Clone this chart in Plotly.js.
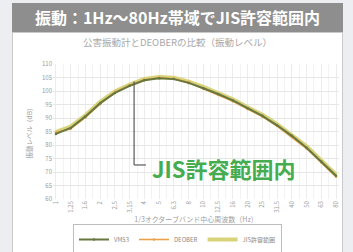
<!DOCTYPE html>
<html><head><meta charset="utf-8">
<script src="https://cdn.plot.ly/plotly-3.0.1.min.js"></script>
<style>
html,body{margin:0;padding:0;background:#eceef1;width:353px;height:252px;overflow:hidden;font-family:"Noto Sans CJK JP","Noto Sans",sans-serif;}
#banner{position:absolute;left:12px;top:3px;width:331px;height:29px;background:#8e8e8e;color:#fff;font-weight:bold;font-size:16px;line-height:29px;text-align:center;letter-spacing:0px;}
#chart{position:absolute;left:12px;top:32px;width:329px;height:222px;background:#fff;border:1px solid #c9c9c9;}
</style></head><body>
<div id="banner">振動：1Hz～80Hz帯域でJIS許容範囲内</div>
<div id="chart"></div>
<script>
const freqLabels = ["1","1.25","1.6","2","2.5","3.15","4","5","6.3","8","10","12.5","16","20","25","31.5","40","50","63","80"];
const vm53   = [84.1,86.3,90.6,95.5,99.3,101.9,104.0,104.7,104.4,103.0,101.0,98.9,96.5,93.6,90.8,87.3,83.4,79.0,73.9,68.6];
const deober = [84.6,86.0,90.2,95.2,99.6,102.1,104.2,104.9,104.5,103.2,100.8,98.6,96.2,93.3,90.5,87.0,83.0,78.7,73.5,68.2];
const jisLimit = [84.9,86.8,91.0,96.0,99.8,102.4,104.5,105.2,104.9,103.5,101.5,99.3,96.9,94.0,91.2,87.7,83.8,79.5,74.3,69.0];
const yTicks = [60,65,70,75,80,85,90,95,100,105,110];
const seriesNames = ["VM53","DEOBER","JIS許容範囲"];
const chartTitle = "公害振動計とDEOBERの比較（振動レベル）";
const xTitle = "1/3オクターブバンド中心周波数（Hz）";
const yTitle = "振動レベル（dB）";
const calloutText = "JIS許容範囲内";

const xIdx = freqLabels.map((_, i) => i);
const font = "Noto Sans CJK JP, Noto Sans, sans-serif";

const traces = [
  {x: xIdx, y: jisLimit, name: seriesNames[2], mode: "lines",
   line: {color: "#d8d27a", width: 4}},
  {x: xIdx, y: deober, name: seriesNames[1], mode: "lines+markers",
   line: {color: "#e9a24a", width: 1.6}, marker: {size: 2.5, color: "#e9a24a"}},
  {x: xIdx, y: vm53, name: seriesNames[0], mode: "lines+markers",
   line: {color: "#66773f", width: 2}, marker: {size: 2.5, color: "#66773f"}}
];

const layout = {
  width: 329, height: 222,
  margin: {l: 40, r: 3, t: 31, b: 56, autoexpand: false},
  paper_bgcolor: "#ffffff", plot_bgcolor: "#ffffff",
  font: {family: font, color: "#9a9a9a", size: 6},
  showlegend: true,
  legend: {orientation: "h", x: 0.5, xanchor: "center", xref: "container",
    y: 0.0, yanchor: "bottom", yref: "container",
    traceorder: "reversed", bordercolor: "#bdbdbd", borderwidth: 1,
    font: {size: 6, color: "#8a8a8a"}, itemwidth: 30, tracegroupgap: 0},
  title: {text: chartTitle, font: {size: 9.5, color: "#a8a8a8"}, x: 0.5, xanchor: "center", y: 0.97, yanchor: "top"},
  xaxis: {
    range: [-0.2, 19.2], tickmode: "array", tickvals: xIdx, ticktext: freqLabels,
    tickangle: -90, showgrid: true, gridcolor: "#ececec", gridwidth: 1,
    minor: {dtick: 0.5, showgrid: true, gridcolor: "#f3f3f3"},
    zeroline: false, showline: false, ticks: "", tickfont: {size: 6, color: "#9a9a9a"},
    title: {text: xTitle, font: {size: 7, color: "#a0a0a0"}, standoff: 13}
  },
  yaxis: {
    range: [60, 110], tickmode: "array", tickvals: yTicks,
    showgrid: true, gridcolor: "#e6e6e6", zeroline: false, showline: false, ticks: "",
    tickfont: {size: 6, color: "#9a9a9a"},
    title: {text: yTitle, font: {size: 6.5, color: "#a0a0a0"}, standoff: 8}
  },
  shapes: [
    {type: "line", xref: "x", yref: "y", x0: 5.3, x1: 5.3, y0: 103.5, y1: 72.6,
     line: {color: "#5a5a5a", width: 1.2}},
    {type: "line", xref: "x", yref: "y", x0: 5.3, x1: 6.1, y0: 72.6, y1: 72.6,
     line: {color: "#5a5a5a", width: 1.2}}
  ],
  annotations: [
    {xref: "x", yref: "y", x: 6.4, y: 71.4, xanchor: "left", yanchor: "middle",
     text: calloutText, showarrow: false,
     font: {family: font, size: 22, color: "#45ad50", weight: "bold"}}
  ]
};

Plotly.newPlot("chart", traces, layout, {staticPlot: true, displayModeBar: false});
</script>
</body></html>
